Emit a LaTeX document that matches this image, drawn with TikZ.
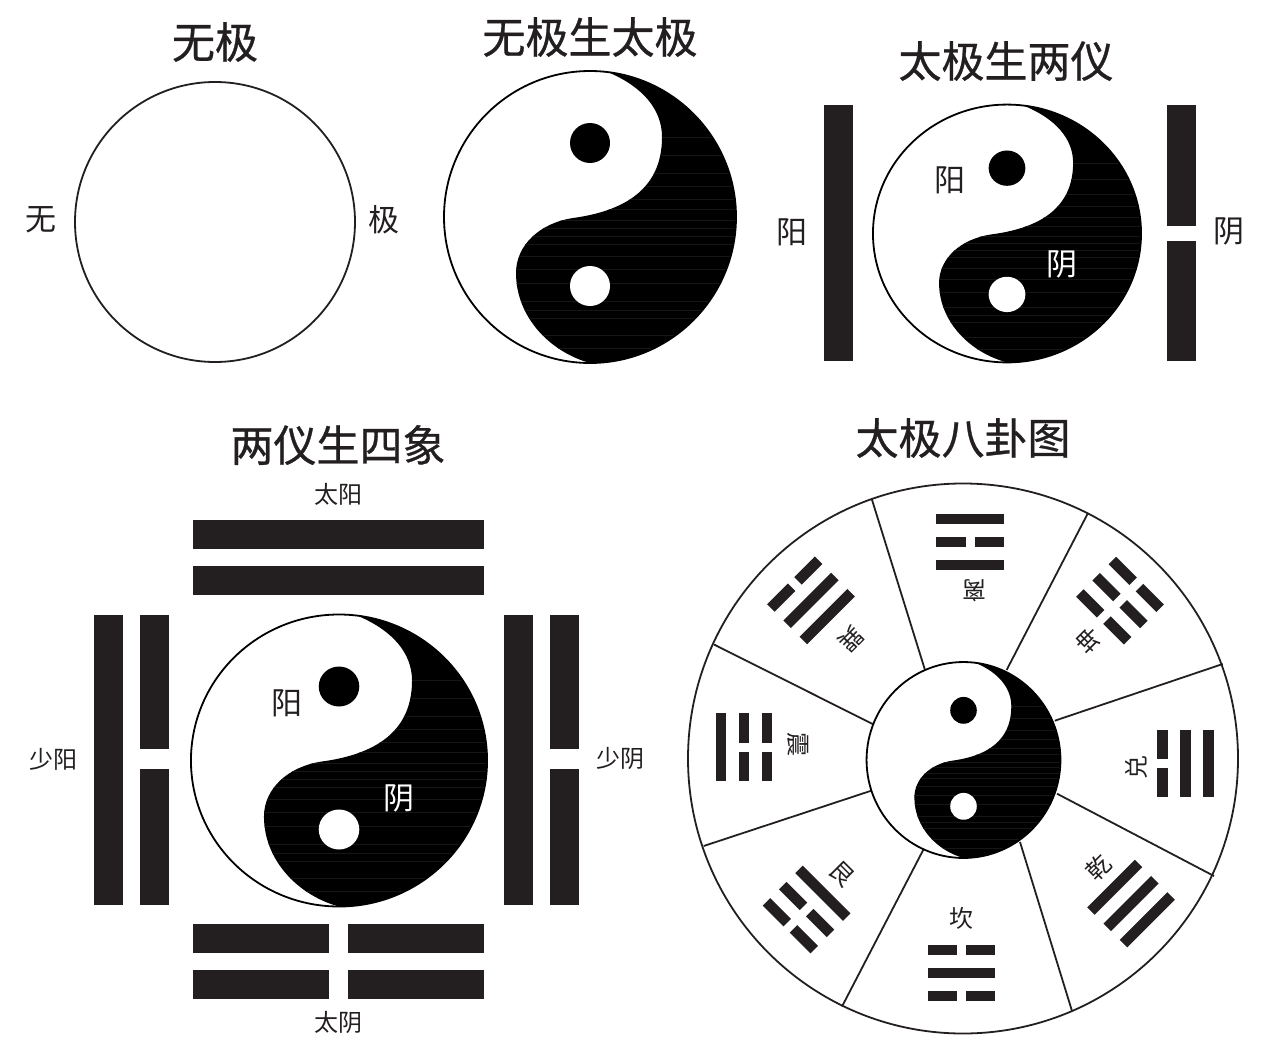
\documentclass[tikz,border=0pt]{standalone}
\usepackage{fontspec}
\newfontfamily\cjk{Noto Sans CJK SC}
\newfontfamily\cjktitle[FakeBold=0.7]{Noto Sans CJK SC}
\definecolor{barblack}{HTML}{231F20}
\definecolor{streak}{HTML}{161616}
\tikzset{
  ink/.style={line width=1.8pt,draw=barblack},
  bar/.style={fill=barblack},
  titletext/.style={font=\cjktitle\fontsize{43}{46}\selectfont,text=barblack,inner sep=0pt},
  biglabel/.style={font=\cjk\fontsize{31}{34}\selectfont,text=barblack,inner sep=0pt},
  smalllabel/.style={font=\cjk\fontsize{24}{26}\selectfont,text=barblack,inner sep=0pt},
  yinyang/.pic={
    \begin{scope}
      \clip (0,0) circle [radius=146];
      \fill[white] (0,0) circle [radius=146];
      \clip (20,-144) .. controls (52,-130) and (72,-108) .. (72,-80)
        .. controls (72,-40) and (50,-8) .. (-17,1)
        .. controls (-50,6) and (-74,28) .. (-74,56)
        .. controls (-74,100) and (-40,135) .. (0,146)
        -- (0,200) -- (200,200) -- (200,-200) -- (20,-200) -- cycle;
      \fill[black] (-200,-200) rectangle (200,200);
      \foreach \sy in {-80,-62,-44,-31,-18,-8,3,11,19,27,39,52,66,84,93,101,118,131}
        \draw[streak,line width=.5pt] (-150,\sy) -- (150,\sy);
    \end{scope}
    \draw[black,line width=1.8pt] (0,0) circle [radius=146];
    \fill[black] (0,-74) circle [radius=20];
    \fill[white] (0,69) circle [radius=20];
  }
}
% one trigram: centre, rotation on the page, and its lines from the outside in (1 solid, 0 broken)
\newcommand{\trigramline}[2]{%
  \ifnum#2=1
    \fill[bar] (-33.75,#1-5.3) rectangle (33.75,#1+5.3);
  \else
    \fill[bar] (-33.75,#1-5.3) rectangle (-4.5,#1+5.3);
    \fill[bar] (4.5,#1-5.3) rectangle (33.75,#1+5.3);
  \fi}
\newcommand{\trigram}[6]{%
  \begin{scope}[shift={(#1,#2)},rotate=#3]
    \trigramline{-23}{#4}\trigramline{0}{#5}\trigramline{23}{#6}
  \end{scope}}
\begin{document}
\begin{tikzpicture}[x=1pt,y=-1pt]
\useasboundingbox (0,0) rectangle (1282,1062);
\fill[white] (0,0) rectangle (1282,1062);

% Titles
\node[titletext] (t1) at (215,42) {无极};
\node[titletext] (t2) at (590,37) {无极生太极};
\node[titletext] (t3) at (1006,61) {太极生两仪};
\node[titletext] (t4) at (338,445) {两仪生四象};
\node[titletext] (t5) at (963,438) {太极八卦图};

% Figure 1
\draw[ink] (215,222) circle [radius=140];
\node[biglabel] (wu) at (41,220) {无};
\node[biglabel] (ji) at (384,220) {极};

% Figure 2
\path (590,217) pic[x=1pt,y=-1pt] {yinyang};

% Figure 3
\path (1007,233.5) pic[x=.918pt,y=-.883pt] {yinyang};
\fill[bar] (824,105) rectangle (853,361);
\fill[bar] (1167,105) rectangle (1196,226);
\fill[bar] (1167,241) rectangle (1196,361);
\node[biglabel] (a1) at (792,232) {阳};
\node[biglabel] (a2) at (1229,231) {阴};
\node[biglabel] (a3) at (950,180) {阳};
\node[biglabel,text=white] (a4) at (1062,264) {阴};

% Figure 4
\path (339,760.5) pic[x=1.014pt,y=-1pt] {yinyang};
\fill[bar] (193,520) rectangle (484,549);
\fill[bar] (193,566) rectangle (484,595);
\fill[bar] (193,924) rectangle (329,953);
\fill[bar] (348,924) rectangle (484,953);
\fill[bar] (193,970) rectangle (329,999);
\fill[bar] (348,970) rectangle (484,999);
\fill[bar] (94,615) rectangle (123,905);
\fill[bar] (140,615) rectangle (169,749);
\fill[bar] (140,769) rectangle (169,905);
\fill[bar] (504,615) rectangle (533,905);
\fill[bar] (550,615) rectangle (579,749);
\fill[bar] (550,769) rectangle (579,905);
\node[biglabel] (b1) at (287,703) {阳};
\node[biglabel,text=white] (b2) at (399,798) {阴};
\node[smalllabel] (b3) at (338,494) {太阳};
\node[smalllabel] (b4) at (338,1022) {太阴};
\node[smalllabel] (b5) at (53,759) {少阳};
\node[smalllabel] (b6) at (620,758) {少阴};

% Figure 5
\draw[ink] (963,758.5) circle [radius=275];
\foreach \ox/\oy/\ix/\iy in {871.6/498.5/925/670, 1088/513/1006.6/670, 1222.7/664/1054.8/720.7,
    1214/876/1057/793.7, 1072/1011/1020/842, 842/1006.5/923.4/849.6,
    703.7/846/873.4/790, 714/644.5/873.4/724.4}
  \draw[ink] (\ox,\oy) -- (\ix,\iy);
\path (963.5,760) pic[x=.664pt,y=-.671pt] {yinyang};

\trigram{970}{542}{0}{1}{0}{1}
\trigram{961.5}{973}{180}{0}{1}{0}
\trigram{744}{747}{90}{1}{0}{0}
\trigram{1185.5}{763.6}{-90}{1}{1}{0}
\trigram{1120}{600.7}{-45}{0}{0}{0}
\trigram{811}{600.3}{45}{0}{1}{1}
\trigram{806.6}{909.5}{135}{0}{0}{1}
\trigram{1131}{903.5}{-135}{1}{1}{1}

\node[smalllabel,rotate=180] (g1) at (974,590.4) {离};
\node[smalllabel] (g2) at (961,918) {坎};
\node[smalllabel,rotate=-90] (g3) at (798,744.5) {震};
\node[smalllabel,rotate=90] (g4) at (1136,767.5) {兑};
\node[smalllabel,rotate=45] (g5) at (1098.6,868) {乾};
\node[smalllabel,rotate=-45] (g6) at (842.4,874) {艮};
\node[smalllabel,rotate=-135] (g7) at (851,638.6) {巽};
\node[smalllabel,rotate=135] (g8) at (1089,640.8) {坤};
\end{tikzpicture}
\end{document}
